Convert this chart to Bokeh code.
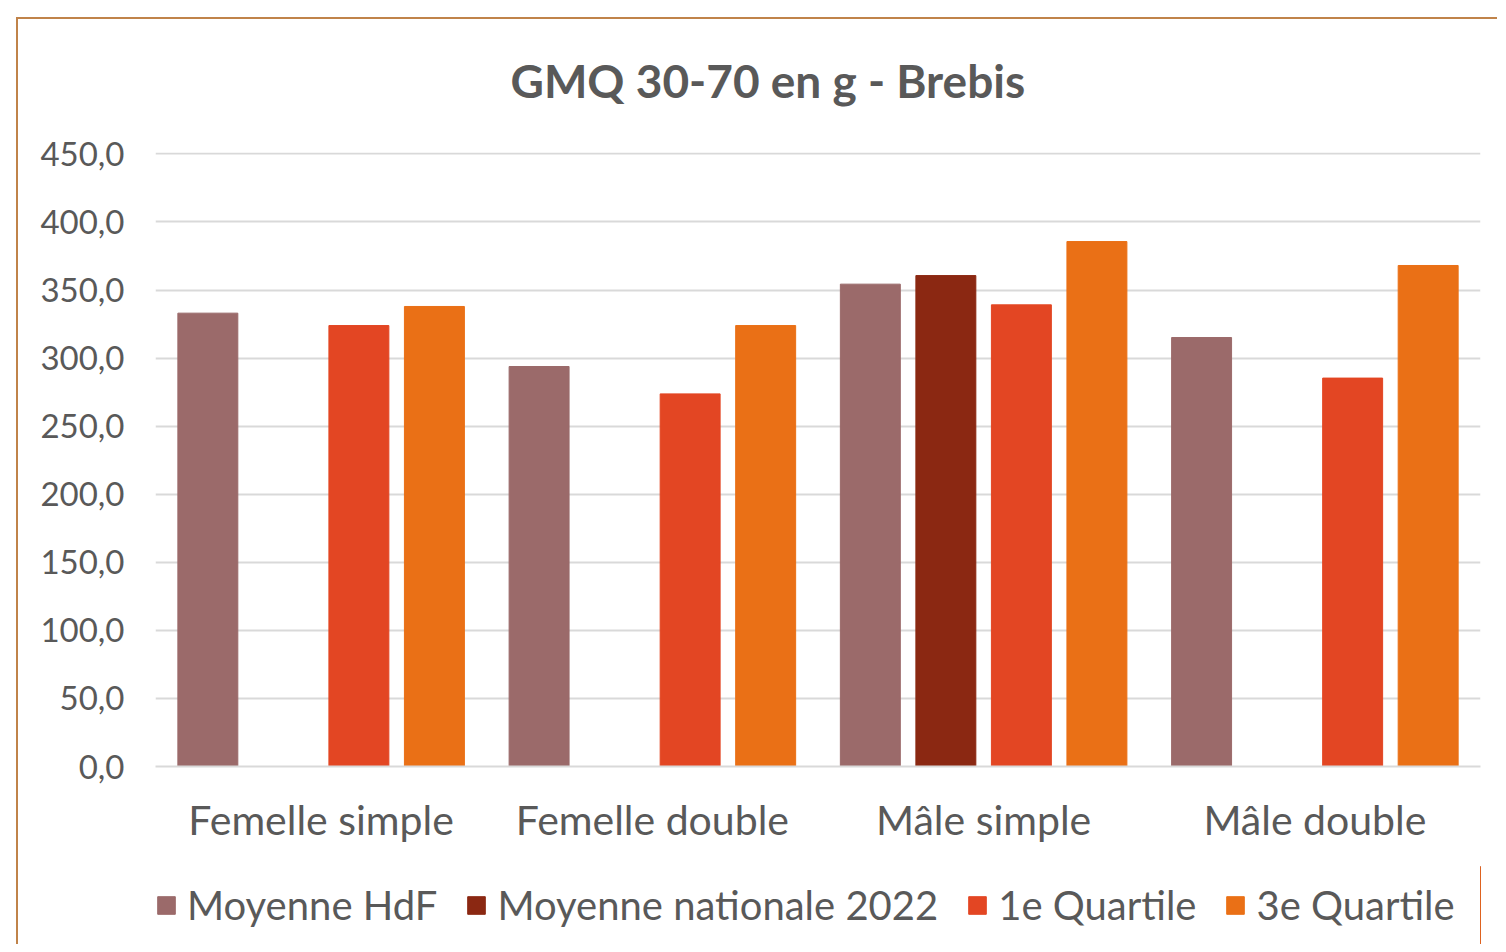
from bokeh.plotting import figure
from bokeh.models import (FactorRange, Range1d, CustomJSTickFormatter, FixedTicker,
                          Legend, LegendItem, ColumnDataSource)
from bokeh.layouts import column
from bokeh.transform import dodge
from bokeh.embed import file_html
from bokeh.resources import INLINE

categories = ["Femelle simple", "Femelle double", "Mâle simple", "Mâle double"]
moyenne_hdf = [333.0, 293.8, 354.3, 315.1]
moyenne_nat = [float("nan"), float("nan"), 360.6, float("nan")]
quartile_1 = [323.9, 273.7, 339.1, 285.3]
quartile_3 = [337.9, 323.9, 385.6, 368.0]
series_names = ["Moyenne HdF", "Moyenne nationale 2022", "1e Quartile", "3e Quartile"]
series_keys = ["hdf", "nat", "q1", "q3"]
colors = ["#9B6A6A", "#8B2812", "#E34623", "#EA7016"]
y_ticks = [0, 50, 100, 150, 200, 250, 300, 350, 400, 450]
title_text = "GMQ 30-70 en g - Brebis"

FONT = "Lato"
TXT = "#595959"
BORDER = "#C0834A"

src = ColumnDataSource(dict(cat=categories, hdf=moyenne_hdf, nat=moyenne_nat,
                            q1=quartile_1, q3=quartile_3))

p = figure(x_range=FactorRange(*categories), y_range=Range1d(0, 451),
           width=1497, height=866, output_backend="svg", toolbar_location=None,
           min_border_left=155, min_border_right=17, min_border_top=152,
           min_border_bottom=100)
# chart-area border: left and top edges (right/bottom are cropped in the reference)
p.border_fill_color = None
p.background_fill_color = "white"
p.styles = {"box-shadow": f"inset 16px 17px 0 0 white, inset 18px 19px 0 0 {BORDER}"}

p.title.text = title_text
p.title.text_font = FONT
p.title.text_font_size = "46px"
p.title.text_font_style = "bold"
p.title.text_color = TXT
p.title.align = "left"
p.title.offset = 355
p.title.standoff = 89

step = 0.228
width = 0.181
offsets = [-1.5 * step, -0.5 * step, 0.5 * step, 1.5 * step]
for key, off, col in zip(series_keys, offsets, colors):
    p.vbar(x=dodge("cat", off, range=p.x_range), top=key, width=width,
           source=src, fill_color=col, line_color=col)

p.outline_line_color = None
p.xgrid.grid_line_color = None
p.ygrid.grid_line_color = "#D9D9D9"
p.ygrid.grid_line_width = 2
p.yaxis.ticker = FixedTicker(ticks=y_ticks)
p.yaxis.formatter = CustomJSTickFormatter(code="return tick.toFixed(1).replace('.', ',');")
p.yaxis.axis_line_color = None
p.yaxis.major_tick_line_color = None
p.yaxis.minor_tick_line_color = None
p.yaxis.major_label_text_font = FONT
p.yaxis.major_label_text_font_size = "33px"
p.yaxis.major_label_text_color = TXT
p.yaxis.major_label_standoff = 25

p.xaxis.axis_line_color = "#D9D9D9"
p.xaxis.axis_line_width = 2
p.xaxis.major_tick_line_color = None
p.xaxis.minor_tick_line_color = None
p.xaxis.major_label_text_font = FONT
p.xaxis.major_label_text_font_size = "41px"
p.xaxis.major_label_text_color = TXT
p.xaxis.major_label_standoff = 22

# legend strip below the chart (its own small canvas so nothing gets clipped)
leg = figure(width=1497, height=78, x_range=Range1d(0, 1), y_range=Range1d(0, 1),
             x_axis_location=None, y_axis_location=None, min_border=0,
             output_backend="svg", toolbar_location=None)
leg.grid.visible = False
leg.outline_line_color = None
leg.border_fill_color = None
leg.background_fill_color = None
leg.styles = {"box-shadow": f"inset 16px 0 0 0 white, inset 18px 0 0 0 {BORDER}"}

# legend proxies: one swatch per series, kept outside the strip's visible range
leg_renderers = [leg.vbar(x=[5], top=[1], width=0.1, fill_color=c, line_color=c) for c in colors]
legend = Legend(items=[LegendItem(label=n, renderers=[r]) for n, r in zip(series_names, leg_renderers)],
                orientation="horizontal", location=(0, 15),
                label_text_font=FONT, label_text_font_size="40px", label_text_color=TXT,
                glyph_width=22, glyph_height=22, label_standoff=10, spacing=28,
                border_line_color=None, background_fill_alpha=0, padding=0, margin=0)
leg.add_layout(legend)

layout = column(p, leg, spacing=0)
open("out.html", "w").write(file_html(layout, INLINE))
